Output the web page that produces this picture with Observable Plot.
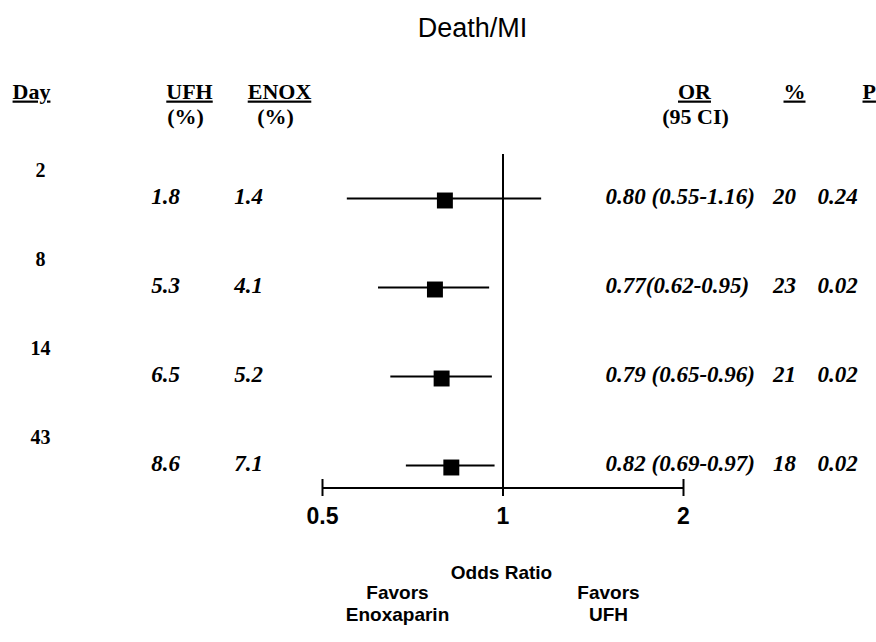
<!DOCTYPE html>
<html><head><meta charset="utf-8">
<script src="https://cdn.jsdelivr.net/npm/d3@7"></script>
<script src="https://cdn.jsdelivr.net/npm/@observablehq/plot@0.6"></script>
<style>body{margin:0;background:#fff;}</style>
</head><body><div id="chart"></div>
<script>
const title = "Death/MI";
const days = ["2", "8", "14", "43"];
const ufh = ["1.8", "5.3", "6.5", "8.6"];
const enox = ["1.4", "4.1", "5.2", "7.1"];
const oddsRatio = [0.80, 0.77, 0.79, 0.82];
const ciLow = [0.55, 0.62, 0.65, 0.69];
const ciHigh = [1.16, 0.95, 0.96, 0.97];
const orLabels = ["0.80 (0.55-1.16)", "0.77(0.62-0.95)", "0.79 (0.65-0.96)", "0.82 (0.69-0.97)"];
const reduction = ["20", "23", "21", "18"];
const pValues = ["0.24", "0.02", "0.02", "0.02"];
const tickValues = [0.5, 1, 2];
const tickLabels = ["0.5", "1", "2"];
const headers = ["Day", "UFH", "ENOX", "OR", "%", "P"];
const subHeaders = ["(%)", "(%)", "(95 CI)"];
const axisTitle = "Odds Ratio";
const favorLeft = "Favors\nEnoxaparin";
const favorRight = "Favors\nUFH";

const rows = days.map((d, i) => ({
  day: d, ufh: ufh[i], enox: enox[i], or: oddsRatio[i], lo: ciLow[i], hi: ciHigh[i],
  orLabel: orLabels[i], pct: reduction[i], p: pValues[i]
}));

const SERIF = "'Liberation Serif', 'Times New Roman', serif";
const SANS = "'Liberation Sans', Arial, sans-serif";

const rowText = (field, dx, anchor = "middle") => Plot.text(rows, {
  y: "day", text: field, frameAnchor: "left", dx, dy: -2, textAnchor: anchor, lineAnchor: "middle",
  fontFamily: SERIF, fontStyle: "italic", fontWeight: "bold", fontSize: 23, fill: "black"
});
const header = (txt, dx, dy, anchor = "middle", underline = false) => Plot.text([txt], {
  text: d => d, frameAnchor: "top-left", dx, dy, textAnchor: anchor, lineAnchor: "middle",
  fontFamily: SERIF, fontWeight: "bold", fontSize: 22, fill: "black",
  ariaDescription: underline ? "header-underline" : "header"
});

const chart = Plot.plot({
  width: 876,
  height: 642,
  marginLeft: 322,
  marginRight: 193,
  marginTop: 154,
  marginBottom: 146,
  style: {background: "white", color: "black", fontFamily: SANS},
  x: {type: "log", domain: [tickValues[0], tickValues[tickValues.length - 1]], axis: null},
  y: {type: "point", domain: days, range: [198, 465], padding: 0, axis: null},
  marks: [
    // reference line at OR = 1
    Plot.ruleX([1], {stroke: "black", strokeWidth: 2}),
    // axis ticks (crossing the axis line)
    Plot.ruleX(tickValues, {stroke: "black", strokeWidth: 2, insetTop: 325}),
    // axis line
    Plot.rect([0], {x1: () => tickValues[0], x2: () => tickValues[tickValues.length - 1], fill: "black", insetTop: 333, insetBottom: 7}),
    // tick labels
    Plot.text(tickValues, {x: d => d, text: (d, i) => tickLabels[i], frameAnchor: "bottom", dy: 20, lineAnchor: "middle",
      fontFamily: SANS, fontWeight: "bold", fontSize: 23, fill: "black"}),
    // confidence intervals
    Plot.ruleY(rows, {y: "day", x1: "lo", x2: "hi", stroke: "black", strokeWidth: 2}),
    // point estimates
    Plot.dot(rows, {x: "or", y: "day", symbol: "square", r: 9, fill: "black", stroke: null, dy: 2}),
    // day labels
    Plot.text(rows, {y: "day", text: "day", frameAnchor: "left", dx: -282, dy: -28, textAnchor: "middle", lineAnchor: "middle",
      fontFamily: SERIF, fontWeight: "bold", fontSize: 20, fill: "black"}),
    rowText("ufh", -157),
    rowText("enox", -74),
    rowText("orLabel", 283, "start"),
    rowText("pct", 462),
    rowText("p", 495, "start"),
    // headers
    header(headers[0], -291, -63, "middle", true),
    header(headers[1], -133, -63, "middle", true),
    header(headers[2], -43, -63, "middle", true),
    header(headers[3], 372, -63, "middle", true),
    header(headers[4], 472, -63, "middle", true),
    header(headers[5], 540, -63, "start", true),
    header(subHeaders[0], -137, -38),
    header(subHeaders[1], -47, -38),
    header(subHeaders[2], 373, -38),
    // title
    Plot.text([title], {text: d => d, frameAnchor: "top-left", dx: 150, dy: -126, textAnchor: "middle", lineAnchor: "middle",
      fontFamily: SANS, fontSize: 27, fill: "black"}),
    // axis title and favors labels
    Plot.text([axisTitle], {text: d => d, frameAnchor: "bottom-left", dx: 179, dy: 76, textAnchor: "middle", lineAnchor: "middle",
      fontFamily: SANS, fontWeight: "bold", fontSize: 19, fill: "black"}),
    Plot.text([favorLeft], {text: d => d, frameAnchor: "bottom-left", dx: 75, dy: 106, lineHeight: 1.16, textAnchor: "middle", lineAnchor: "middle",
      fontFamily: SANS, fontWeight: "bold", fontSize: 19, fill: "black"}),
    Plot.text([favorRight], {text: d => d, frameAnchor: "bottom-left", dx: 286, dy: 106, lineHeight: 1.16, textAnchor: "middle", lineAnchor: "middle",
      fontFamily: SANS, fontWeight: "bold", fontSize: 19, fill: "black"})
  ]
});

// underline the column headers
chart.querySelectorAll("text").forEach(t => {
  const g = t.closest("g");
  if (g && g.getAttribute("aria-description") === "header-underline") {
    t.setAttribute("text-decoration", "underline");
    t.style.textDecoration = "underline";
  }
});
document.getElementById("chart").appendChild(chart);
</script>
</body></html>
